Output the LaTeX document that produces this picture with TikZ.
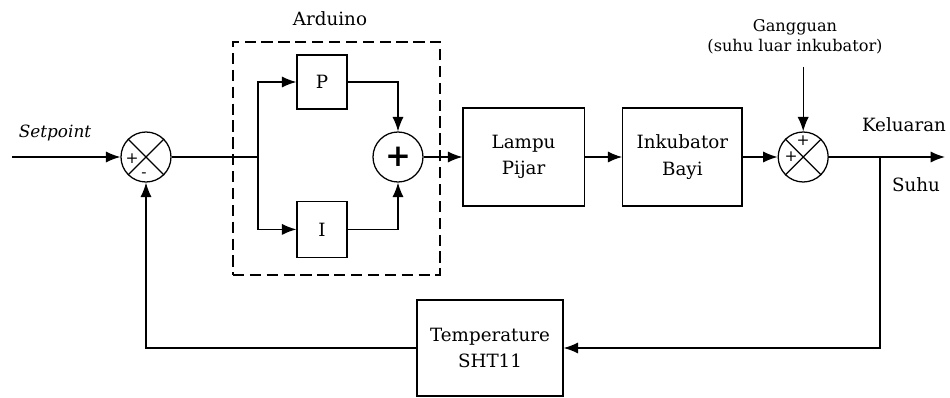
\documentclass[tikz,border=0pt]{standalone}
\usepackage{fontspec}
\setmainfont{DejaVu Serif}
\usetikzlibrary{arrows.meta,positioning,calc}

\begin{document}
\begin{tikzpicture}[font=\fontsize{13}{19}\selectfont,
  b/.style={draw,line width=0.9pt,align=center,inner sep=0pt},
  sum/.style={draw,circle,line width=0.9pt,minimum size=1.25cm,inner sep=0pt},
  arr/.style={-{Latex[length=3.6mm,width=2.8mm]},line width=1pt},
  ln/.style={line width=1pt},
  sgn/.style={font=\fontsize{11}{11}\selectfont,inner sep=0pt}]
\useasboundingbox (0,0) rectangle (23.75,9.925);
% input and first summing point
\coordinate (in) at (0.3,6);
\node[sum] (s1) at (3.65,6) {};
\draw[line width=0.9pt] (s1.north west)--(s1.south east) (s1.north east)--(s1.south west);
\node[sgn] at ($(s1)+(-0.35,-0.05)$) {+};
\node[sgn] at ($(s1)+(-0.05,-0.45)$) {-};
\node[font=\fontsize{12}{14}\selectfont\itshape] (sp) at (1.375,6.6) {Setpoint};
\draw[arr] (in) -- (s1.west);
% controller
\node[draw,line width=1pt,dash pattern=on 8pt off 4pt,minimum width=5.175cm,minimum height=5.825cm] (ard) at (8.4125,5.9625) {};
\node (ardl) at (8.25,9.45) {Arduino};
\node[b,minimum width=1.25cm,minimum height=1.35cm] (P) at (8.05,7.875) {P};
\node[b,minimum width=1.25cm,minimum height=1.4cm] (I) at (8.05,4.19) {I};
\node[sum] (add) at (9.95,6) {\fontsize{22}{22}\selectfont\textbf{+}};
\coordinate (br) at (6.45,6);
\draw[ln] (s1.east) -- (br);
\draw[arr] (br) |- (P.west);
\draw[arr] (br) |- (I.west);
\draw[arr] (P.east) -| (add.north);
\draw[arr] (I.east) -| (add.south);
% plant
\node[b,minimum width=3.03cm,minimum height=2.45cm] (lamp) at (13.09,6) {Lampu\\Pijar};
\node[b,minimum width=2.98cm,minimum height=2.45cm] (ink) at (17.06,6) {Inkubator\\Bayi};
\draw[arr] (add.east) -- (lamp.west);
\draw[arr] (lamp) -- (ink);
% disturbance
\node[sum] (s2) at (20.08,6) {};
\draw[line width=0.9pt] (s2.north west)--(s2.south east) (s2.north east)--(s2.south west);
\node[sgn] at ($(s2)+(0,0.4)$) {+};
\node[sgn] at ($(s2)+(-0.3,0)$) {+};
\draw[arr] (ink) -- (s2);
\node[align=center,font=\fontsize{11.5}{14}\selectfont] (dist) at (19.875,9.0) {Gangguan\\(suhu luar inkubator)};
\coordinate (d) at (20.08,8.25);
\draw[arr] (d) -- (s2.north);
% output
\coordinate (out) at (23.625,6);
\coordinate (fb) at (22,6);
\draw[arr] (s2.east) -- (out);
\node (kel) at (22.6,6.8) {Keluaran};
\node (suhu) at (22.9,5.3) {Suhu};
% feedback
\node[b,minimum width=3.65cm,minimum height=2.4cm] (tmp) at (12.25,1.225) {Temperature\\SHT11};
\draw[arr] (fb) |- (tmp.east);
\draw[arr] (tmp.west) -| (s1.south);
\end{tikzpicture}
\end{document}
